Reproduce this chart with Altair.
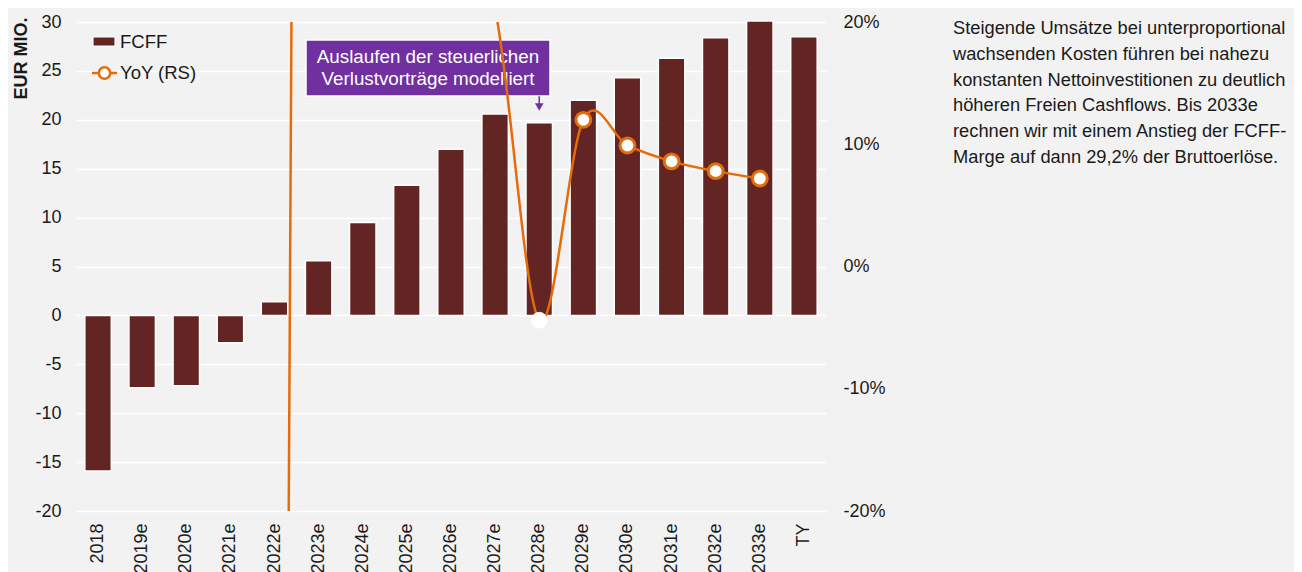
import altair as alt
import pandas as pd

years = ["2018", "2019e", "2020e", "2021e", "2022e", "2023e", "2024e", "2025e",
         "2026e", "2027e", "2028e", "2029e", "2030e", "2031e", "2032e", "2033e", "TY"]
fcff = [-15.9, -7.4, -7.2, -2.8, 1.4, 5.6, 9.5, 13.3, 17.0, 20.6, 19.7, 22.0,
        24.3, 26.3, 28.4, 30.1, 28.5]

yoy_years = ["2022e", "2023e", "2024e", "2025e", "2026e", "2027e", "2028e",
             "2029e", "2030e", "2031e", "2032e", "2033e"]
yoy = [-230.0, 300.0, 70.0, 40.0, 28.0, 21.0, -4.4, 12.0, 9.9, 8.6, 7.8, 7.2]

left_ticks = [-20, -15, -10, -5, 0, 5, 10, 15, 20, 25, 30]
right_ticks = [-20, -10, 0, 10, 20]

note_box = ["Auslaufen der steuerlichen", "Verlustvorträge modelliert"]
side_text = ["Steigende Umsätze bei unterproportional",
             "wachsenden Kosten führen bei nahezu",
             "konstanten Nettoinvestitionen zu deutlich",
             "höheren Freien Cashflows. Bis 2033e",
             "rechnen wir mit einem Anstieg der FCFF-",
             "Marge auf dann 29,2% der Bruttoerlöse."]

BAR = "#632523"
ORANGE = "#e46c0a"
PURPLE = "#7030a0"
TXT = "#1a1a1a"
FONT = "Liberation Sans"

bars_df = pd.DataFrame({"Jahr": years, "FCFF": fcff})
yoy_df = pd.DataFrame({"Jahr": yoy_years, "YoY": yoy})
one = pd.DataFrame({"k": [0]})

xenc = alt.X("Jahr:N", sort=years, title=None,
             scale=alt.Scale(paddingInner=0.4, paddingOuter=0.2),
             axis=alt.Axis(labelAngle=-90, labelFontSize=18, labelColor=TXT,
                           labelPadding=12, ticks=False, domain=False, grid=False))

bars = alt.Chart(bars_df).mark_bar(color=BAR, stroke="white", strokeWidth=1.5).encode(
    x=xenc,
    y=alt.Y("FCFF:Q", scale=alt.Scale(domain=[-20, 30], nice=False, zero=False),
            axis=alt.Axis(values=left_ticks, title="EUR MIO.", titleFontSize=18,
                          titleFontWeight="bold", titleColor=TXT,
                          titleAngle=-90, titleAlign="right", titleBaseline="middle",
                          titleX=-55, titleY=-5,
                          labelExpr="datum.value + ''",
                          labelFontSize=18, labelColor=TXT, labelPadding=15,
                          ticks=False, domain=False, grid=True,
                          gridColor="white", gridWidth=1.5)),
)

# annotation box + arrow (arrow placed in left-scale units at 2028e)
box = alt.Chart(one).mark_rect(fill=PURPLE, stroke="white", strokeWidth=1.5).encode(
    x=alt.value(230), x2=alt.value(474), y=alt.value(18), y2=alt.value(74))
box_text = alt.Chart(pd.DataFrame({"t": [note_box]})).mark_text(
    color="white", fontSize=18.8, align="center", baseline="alphabetic", lineHeight=22
).encode(x=alt.value(352), y=alt.value(41), text="t")
arrow_df = pd.DataFrame({"Jahr": ["2028e"], "y1": [22.4], "y2": [21.5], "tip": [21.3]})
arrow_line = alt.Chart(arrow_df).mark_rule(color=PURPLE, strokeWidth=1.5).encode(
    x=alt.X("Jahr:N", sort=years), y="y1:Q", y2="y2:Q")
arrow_head = alt.Chart(arrow_df).mark_point(shape="triangle-down", filled=True,
                                              color=PURPLE, size=75, opacity=1).encode(
    x=alt.X("Jahr:N", sort=years), y="tip:Q")

# manual legend
leg_bar = alt.Chart(one).mark_rect(fill=BAR, stroke="white", strokeWidth=1.2).encode(
    x=alt.value(17), x2=alt.value(39), y=alt.value(15), y2=alt.value(24))
leg_line = alt.Chart(one).mark_rule(color=ORANGE, strokeWidth=2.5).encode(
    x=alt.value(16), x2=alt.value(41), y=alt.value(51))
leg_pt = alt.Chart(one).mark_point(shape="circle", filled=True, fill="white",
                                    stroke=ORANGE, strokeWidth=2.5, size=130, opacity=1).encode(
    x=alt.value(28.5), y=alt.value(51))
leg_txt = alt.Chart(pd.DataFrame({"t": ["FCFF", "YoY (RS)"], "yy": [20, 51]})).mark_text(
    align="left", baseline="middle", fontSize=18.5, color=TXT).encode(
    x=alt.value(44), y=alt.Y("yy:Q", scale=None), text="t")

side = alt.Chart(pd.DataFrame({"t": [side_text]})).mark_text(
    align="left", baseline="alphabetic", fontSize=18.3, color=TXT, lineHeight=25.8
).encode(x=alt.value(877), y=alt.value(12), text="t")

left_group = alt.layer(bars, box, box_text, arrow_line, arrow_head,
                       leg_bar, leg_line, leg_pt, leg_txt, side)

yy = alt.Scale(domain=[-20, 20], nice=False, zero=False)
right_axis = alt.Axis(orient="right", values=right_ticks, title=None,
                      labelExpr="datum.value + '%'", labelFontSize=18,
                      labelColor=TXT, labelPadding=17, labelAlign="left",
                      ticks=False, domain=False, grid=False)

line = alt.Chart(yoy_df).mark_line(color=ORANGE, strokeWidth=2.5, clip=True,
                                   interpolate="cardinal").encode(
    x=alt.X("Jahr:N", sort=years),
    y=alt.Y("YoY:Q", scale=yy, axis=right_axis),
)
pts = alt.Chart(yoy_df).transform_filter(
    alt.FieldOneOfPredicate(field="Jahr", oneOf=yoy_years[7:])
).mark_point(shape="circle", filled=True, fill="white", stroke=ORANGE,
             strokeWidth=3, size=220, opacity=1, clip=True).encode(
    x=alt.X("Jahr:N", sort=years), y=alt.Y("YoY:Q", scale=yy, axis=right_axis))
pt28 = alt.Chart(yoy_df).transform_filter(
    alt.FieldEqualPredicate(field="Jahr", equal="2028e")
).mark_point(shape="circle", filled=True, fill="white", stroke="white",
             strokeWidth=1, size=250, opacity=1, clip=True).encode(
    x=alt.X("Jahr:N", sort=years), y=alt.Y("YoY:Q", scale=yy, axis=right_axis))

right_group = alt.layer(line, pts, pt28)

chart = alt.layer(left_group, right_group).resolve_scale(y="independent").properties(
    width=750, height=489,
    background="#f2f2f2",
    padding={"left": 68, "top": 14, "right": 468, "bottom": 62},
    autosize=alt.AutoSizeParams(type="none"),
).configure(font=FONT).configure_view(stroke=None)

chart.save("out.html", embed_options={"renderer": "svg", "actions": False})
